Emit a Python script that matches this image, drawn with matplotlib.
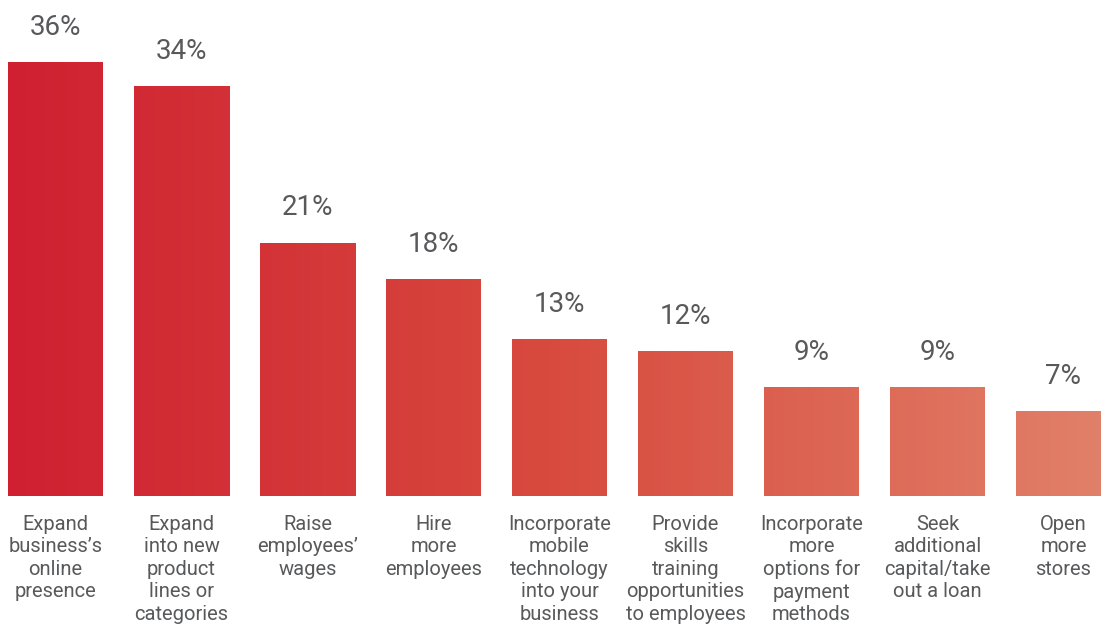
import numpy as np
import matplotlib.pyplot as plt
from matplotlib.colors import LinearSegmentedColormap, Normalize
from matplotlib.transforms import offset_copy

categories = [
    "Expand\nbusiness's\nonline\npresence",
    "Expand\ninto new\nproduct\nlines or\ncategories",
    "Raise\nemployees'\nwages",
    "Hire\nmore\nemployees",
    "Incorporate\nmobile\ntechnology\ninto your\nbusiness",
    "Provide\nskills\ntraining\nopportunities\nto employees",
    "Incorporate\nmore\noptions for\npayment\nmethods",
    "Seek\nadditional\ncapital/take\nout a loan",
    "Open\nmore\nstores",
]
values = [36, 34, 21, 18, 13, 12, 9, 9, 7]

text_color = "#58595b"
plt.rcParams["font.family"] = ["Roboto", "DejaVu Sans"]

fig = plt.figure(figsize=(11.01, 6.24), dpi=100)
ax = fig.add_axes([0, 128 / 624, 1, 496 / 624])

width = 95 / 126
xmin, xmax = -55.5 / 126, (1101 - 55.5) / 126

cmap = LinearSegmentedColormap.from_list(
    "reds", ["#cf1f31", "#d84a3e", "#e18069"])
norm = Normalize(xmin, xmax)

x = np.arange(len(values))
bars = ax.bar(x, values, width=width, color="none", edgecolor="none")
for b in bars:
    x0, x1 = b.get_x(), b.get_x() + b.get_width()
    grad = np.linspace(x0, x1, 64).reshape(1, -1)
    ax.imshow(grad, cmap=cmap, norm=norm, aspect="auto",
              extent=[x0, x1, 0, b.get_height()], interpolation="bilinear",
              zorder=2)

ax.set_xlim(xmin, xmax)
ax.set_ylim(0, 496 / 12.03)

for xi, v in zip(x, values):
    ax.annotate(f"{v}%", (xi, v), xytext=(0, 25.5), textcoords="offset points",
                ha="center", va="center", fontsize=20, color=text_color)

below = offset_copy(ax.get_xaxis_transform(), fig=fig, x=0, y=-13.5,
                    units="points")
for xi, c in zip(x, categories):
    ax.text(xi, 0, c.replace("'", "\u2019"), transform=below, ha="center",
            va="top", fontsize=14.5, color=text_color, linespacing=1.23)

ax.axis("off")
fig.savefig("out.png", dpi=100)
